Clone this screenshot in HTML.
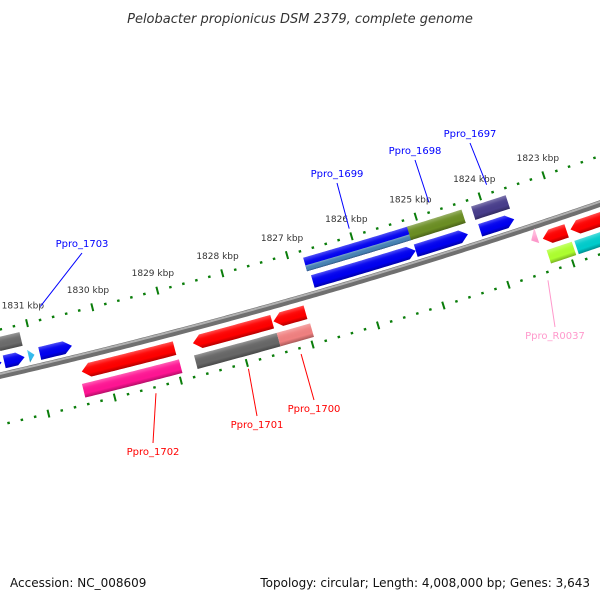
<!DOCTYPE html>
<html><head><meta charset="utf-8">
<style>
html,body{margin:0;padding:0;background:#fff;}
svg{display:block;font-family:"DejaVu Sans","Liberation Sans",sans-serif;}
</style></head>
<body>
<svg id="map" width="600" height="600" viewBox="0 0 600 600" xmlns="http://www.w3.org/2000/svg">
<defs id="defs"></defs>
<rect width="600" height="600" fill="#fff"/>
<text x="300" y="23" text-anchor="middle" font-size="13" font-style="italic" fill="#333">Pelobacter propionicus DSM 2379, complete genome</text>
<g id="ticks"></g>
<g id="backbone"></g>
<g id="features"></g>
<g id="labels"></g>
<text x="10" y="587" font-size="12" fill="#111">Accession: NC_008609</text>
<text x="590" y="587" text-anchor="end" font-size="12" fill="#111">Topology: circular; Length: 4,008,000 bp; Genes: 3,643</text>
</svg>
<script>
// feature data (kbp)
const featStart = [1831.9,1831.48,1826.78,1826.78,1825.17,1824.17, 1831.9,1831.46,1830.92,1831.09,1826.74,1825.15,1824.15, 1830.38,1828.69,1827.46,1823.48,1823.31,1822.88, 1830.42,1828.72,1827.46,1823.31,1822.88];
const featEnd   = [1831.5,1831.14,1825.14,1825.14,1824.32,1823.63, 1831.5,1831.15,1830.43,1831.0,1825.15,1824.34,1823.62, 1828.97,1827.48,1826.97,1823.38,1822.94,1822.2, 1828.95,1827.46,1826.95,1822.92,1822.2];
const featRow   = ['A2','A2','A2','A2b','A2','A2', 'A1','A1','A1','A1','A1','A1','A1', 'B1','B1','B1','B1','B1','B1', 'B2','B2','B2','B2','B2'];
const featColor = ['#f08080','#6b6b6b','#0000f0','#4682b4','#6b8e23','#483d8b', '#0000f0','#0000f0','#0000f0','#33bbee','#0000f0','#0000f0','#0000f0', '#ff0000','#ff0000','#ff0000','#ff99cc','#ff0000','#ff0000', '#ff1493','#666666','#f08080','#adff2f','#00cccc'];
const featShape = ['box','box','box','box','box','box', 'fwd','fwd','fwd','tri','fwd','fwd','fwd', 'rev','rev','rev','trirev','rev','rev', 'box','box','box','box','box'];
const tickLabels = [1831,1830,1829,1828,1827,1826,1825,1824,1823];
const geneLabels = ['Ppro_1703','Ppro_1699','Ppro_1698','Ppro_1697','Ppro_1702','Ppro_1701','Ppro_1700','Ppro_R0037'];
const geneLabelPos = [1830.75,1826.0,1824.75,1823.85,1829.4,1828.0,1827.2,1823.43];
const geneLabelRad = [5838,5843,5841,5842,5950,5950,5950,5952];
const geneLabelColor = ['#0000ff','#0000ff','#0000ff','#0000ff','#ff0000','#ff0000','#ff0000','#ff99cc'];
const geneLabelSide = ['in','in','in','in','out','out','out','out'];
const geneLabelXY = [[82,247],[337,177],[415,154],[470,137],[153,455],[257,428],[314,412],[555,339]];

const CX=-1323, CY=-5370;
const rows={A2:[5858,5872],A2b:[5866,5872],A1:[5877,5890],B1:[5904,5918],B2:[5923,5937]};
const NS='http://www.w3.org/2000/svg';
function pt(p,r){const a=(76.66-(1831-p)*0.658)*Math.PI/180;return [CX+r*Math.cos(a),CY+r*Math.sin(a)];}
function arcPts(p0,p1,r){const out=[];const n=Math.max(2,Math.ceil(Math.abs(p1-p0)/0.05));for(let i=0;i<=n;i++){out.push(pt(p0+(p1-p0)*i/n,r));}return out;}
function mk(tag,attrs,parent){const e=document.createElementNS(NS,tag);for(const k in attrs)e.setAttribute(k,attrs[k]);parent.appendChild(e);return e;}
const defs=document.getElementById('defs');

// backbone
const bb=document.getElementById('backbone');
const b1=mk('polyline',{points:arcPts(1833,1821,5896).map(q=>q.join(',')).join(' '),fill:'none',stroke:'#707070','stroke-width':6.5},bb);


const b2=mk('polyline',{points:arcPts(1833,1821,5894.3).map(q=>q.join(',')).join(' '),fill:'none',stroke:'#b0b0b0','stroke-width':2},bb);



// ticks
const tg=document.getElementById('ticks');
[5851,5944].forEach((R,ri)=>{
  for(let i=0;i<=55;i++){
    const p=1832.6-i*0.2;
    const major=Math.abs(p-Math.round(p))<0.01;
    const h=major?4:1.2;
    const a=pt(p,R-h),b=pt(p,R+h);
    const t=mk('line',{x1:a[0],y1:a[1],x2:b[0],y2:b[1],stroke:'#0a7d0a','stroke-width':major?2:2.5},tg);
    
    
  }
});
tickLabels.forEach(k=>{
  const q=pt(k,5833);
  const t=mk('text',{x:q[0],y:q[1]+3,'text-anchor':'middle','font-size':9,fill:'#333'},tg);
  t.textContent=k+' kbp';
  
  
});

// features
const fg=document.getElementById('features');
const HEAD=0.12;
featStart.forEach((s,i)=>{
  const e=featEnd[i],[r0,r1]=rows[featRow[i]],rm=(r0+r1)/2,sh=featShape[i];
  let poly;
  if(sh==='box'){poly=arcPts(s,e,r0).concat(arcPts(e,s,r1));}
  else if(sh==='fwd'){const h=Math.min(HEAD,(s-e)*0.5);poly=arcPts(s,e+h,r0).concat([pt(e,rm)],arcPts(e+h,s,r1));}
  else if(sh==='rev'){const h=Math.min(HEAD,(s-e)*0.5);poly=[pt(s,rm)].concat(arcPts(s-h,e,r0),arcPts(e,s-h,r1));}
  else if(sh==='tri'){poly=[pt(s,r0),pt(e,rm),pt(s,r1)];}
  else {poly=[pt(s,rm-2),pt(e,r0-6),pt(e,r1-4)];}
  const ps=poly.map(q=>q.join(',')).join(' ');
  const g=mk('g',{},fg);
  
  
  mk('polygon',{points:ps,fill:featColor[i]},g);
  const mid=(s+e)/2,a=pt(mid,r0),b=pt(mid,r1);
  const gid='gr'+i;
  const lg=mk('linearGradient',{id:gid,gradientUnits:'userSpaceOnUse',x1:a[0],y1:a[1],x2:b[0],y2:b[1]},defs);
  mk('stop',{offset:0,'stop-color':'#fff','stop-opacity':0.3},lg);
  mk('stop',{offset:0.3,'stop-color':'#fff','stop-opacity':0.05},lg);
  mk('stop',{offset:0.7,'stop-color':'#000','stop-opacity':0},lg);
  mk('stop',{offset:1,'stop-color':'#000','stop-opacity':0.3},lg);
  mk('polygon',{points:ps,fill:'url(#'+gid+')'},g);
});

// gene labels
const lgp=document.getElementById('labels');
geneLabels.forEach((name,i)=>{
  const [tx,ty]=geneLabelXY[i];
  const anchor=pt(geneLabelPos[i],geneLabelRad[i]);
  const ly=geneLabelSide[i]==='in'?ty+6:ty-12;
  const l=mk('line',{x1:tx,y1:ly,x2:anchor[0],y2:anchor[1],stroke:geneLabelColor[i],'stroke-width':1},lgp);
  
  
  const t=mk('text',{x:tx,y:ty,'text-anchor':'middle','font-size':10,fill:geneLabelColor[i]},lgp);
  t.textContent=name;
  
  
});
</script>
</body></html>
